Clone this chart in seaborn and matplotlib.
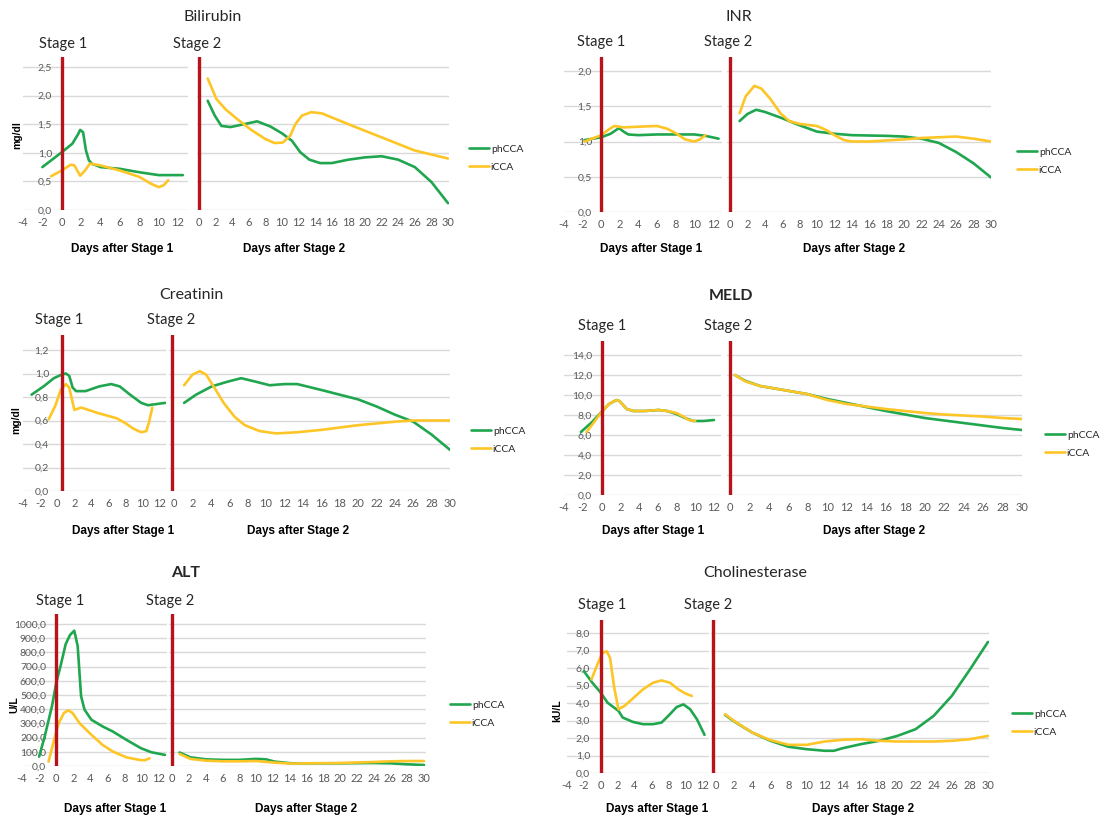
"""
Liver lab values after stage 1 / stage 2 surgery, phCCA vs iCCA.
Six small panels, each split into a Stage 1 and a Stage 2 axis.
Output: out.png
"""

import numpy as np
import pandas as pd
import matplotlib
matplotlib.use("Agg")
import matplotlib.pyplot as plt
import seaborn as sns

W, H = 1101, 819

# -------------------------------
# Data: (day, value)
# -------------------------------
bili_s1_ph = [(-2, 0.75), (0, 1.01), (1.1, 1.16), (1.7, 1.33), (1.9, 1.40), (2.2, 1.36), (2.5, 1.04),
              (2.8, 0.87), (3.1, 0.81), (4, 0.75), (6, 0.72), (7, 0.69), (8, 0.66), (10, 0.61),
              (12, 0.61), (12.5, 0.61)]
bili_s1_i = [(-1.1, 0.59), (0, 0.69), (0.9, 0.79), (1.3, 0.78), (1.9, 0.60), (2.4, 0.69), (2.9, 0.81),
             (4, 0.78), (6, 0.69), (8, 0.58), (9.2, 0.46), (10, 0.40), (10.5, 0.43), (11, 0.52)]
bili_s2_ph = [(1.05, 1.91), (1.9, 1.65), (2.7, 1.47), (3.8, 1.45), (5.1, 1.49), (7, 1.55), (8.6, 1.46),
              (10, 1.34), (11.2, 1.21), (12.2, 1.01), (13.3, 0.88), (14.6, 0.82), (16, 0.82),
              (18, 0.88), (20, 0.92), (22, 0.94), (24, 0.88), (26, 0.75), (28, 0.49), (30, 0.12)]
bili_s2_i = [(1.05, 2.30), (2.1, 1.94), (3.2, 1.76), (4.6, 1.59), (6.3, 1.40), (8, 1.24), (9.1, 1.17),
             (10.1, 1.18), (11, 1.30), (11.6, 1.50), (12.4, 1.65), (13.5, 1.71), (14.8, 1.69),
             (18, 1.50), (22, 1.27), (26, 1.04), (30, 0.90)]

inr_s1_ph = [(-1.8, 1.02), (0, 1.06), (1, 1.11), (1.9, 1.19), (2.4, 1.14), (2.9, 1.10), (4, 1.09),
             (6, 1.10), (8, 1.10), (10, 1.10), (11.2, 1.08), (12.6, 1.04)]
inr_s1_i = [(-1.8, 1.00), (0, 1.09), (0.8, 1.17), (1.4, 1.22), (2.4, 1.20), (4, 1.21), (6, 1.22),
            (7.1, 1.18), (8.1, 1.11), (9, 1.03), (10, 1.00), (10.6, 1.03), (11.2, 1.09)]
inr_s2_ph = [(1.1, 1.29), (2, 1.39), (3, 1.45), (4, 1.42), (6, 1.33), (8, 1.23), (10, 1.14), (12, 1.11),
             (14, 1.09), (18, 1.08), (20, 1.07), (22, 1.04), (24, 0.98), (26, 0.85), (28, 0.69),
             (30, 0.49)]
inr_s2_i = [(1.1, 1.40), (1.8, 1.64), (2.8, 1.79), (3.6, 1.75), (4.6, 1.61), (5.8, 1.40), (6.8, 1.29),
            (8, 1.25), (10, 1.22), (11.1, 1.16), (12, 1.09), (13.1, 1.02), (14, 1.00), (16, 1.00),
            (20, 1.03), (22, 1.05), (26, 1.07), (28, 1.04), (30, 1.00)]

crea_s1_ph = [(-3, 0.82), (-1.6, 0.89), (-0.4, 0.96), (0.5, 0.99), (1.0, 1.00), (1.4, 0.98), (1.8, 0.88),
              (2.2, 0.85), (3.3, 0.85), (4.9, 0.89), (6.3, 0.91), (7.3, 0.89), (8.5, 0.82),
              (9.8, 0.75), (10.6, 0.73), (11.6, 0.74), (12.6, 0.75)]
crea_s1_i = [(-1.0, 0.61), (-0.2, 0.73), (0.4, 0.86), (1.0, 0.91), (1.4, 0.88), (2.0, 0.69), (2.8, 0.71),
             (4.9, 0.66), (6.9, 0.62), (7.9, 0.58), (8.9, 0.53), (9.8, 0.50), (10.4, 0.51),
             (10.7, 0.58), (11.1, 0.71)]
crea_s2_ph = [(1.1, 0.75), (2.4, 0.82), (4.1, 0.89), (5.8, 0.93), (7.3, 0.96), (8.9, 0.93), (10.4, 0.90),
              (12, 0.91), (13.4, 0.91), (16, 0.86), (18, 0.82), (20, 0.78), (22, 0.72), (24, 0.65),
              (26, 0.59), (28, 0.48), (30, 0.35)]
crea_s2_i = [(1.1, 0.90), (2.0, 0.99), (2.8, 1.02), (3.5, 0.99), (4.3, 0.89), (5.4, 0.75), (6.6, 0.63),
             (7.7, 0.56), (9.3, 0.51), (11.1, 0.49), (13.4, 0.50), (16, 0.52), (20, 0.56), (24, 0.59),
             (26, 0.60), (30, 0.60)]

meld_s1_ph = [(-2.2, 6.3), (-1.0, 7.3), (0, 8.3), (0.8, 9.1), (1.6, 9.5), (1.9, 9.4), (2.7, 8.6),
              (3.4, 8.4), (4.6, 8.4), (6.1, 8.5), (7, 8.4), (8, 8.1), (8.9, 7.7), (9.8, 7.4),
              (10.9, 7.4), (12, 7.5)]
meld_s1_i = [(-1.6, 6.3), (-0.7, 7.4), (0, 8.3), (0.8, 9.1), (1.6, 9.5), (1.9, 9.4), (2.7, 8.6),
             (3.4, 8.4), (4.6, 8.4), (6.1, 8.5), (7, 8.4), (8, 8.2), (8.8, 7.8), (9.3, 7.5), (10, 7.4)]
meld_s2_ph = [(0.5, 12.0), (1.6, 11.4), (3.1, 10.9), (4.9, 10.6), (7.9, 10.1), (10, 9.6), (12, 9.2),
              (14, 8.8), (16, 8.4), (18, 8.05), (20, 7.7), (22, 7.45), (24, 7.2), (26, 6.95),
              (28, 6.7), (30, 6.5)]
meld_s2_i = [(0.5, 12.0), (1.6, 11.35), (3.1, 10.9), (4.9, 10.6), (7.9, 10.1), (10, 9.5), (12, 9.1),
             (14, 8.85), (16, 8.6), (18, 8.4), (20, 8.2), (22, 8.05), (24, 7.95), (26, 7.85),
             (28, 7.7), (30, 7.6)]

alt_s1_ph = [(-2.0, 66), (-1.35, 208), (-0.5, 421), (0, 586), (0.5, 704), (1.1, 858), (1.6, 922),
             (2.1, 953), (2.5, 846), (2.9, 492), (3.3, 397), (4.1, 326), (5.4, 279), (6.6, 243),
             (8.2, 184), (9.9, 125), (11.1, 97), (12.7, 78)]
alt_s1_i = [(-0.9, 31), (-0.3, 173), (0.3, 303), (0.9, 374), (1.4, 392), (1.9, 374), (2.7, 303),
            (4.1, 220), (5.4, 149), (6.6, 102), (8.2, 61), (9.7, 43), (10.3, 40), (10.9, 54)]
alt_s2_ph = [(0.9, 95), (2.2, 61), (4, 47), (6, 43), (8, 43), (10, 50), (11.2, 47), (12.2, 31),
             (14.2, 19), (16.2, 19), (20, 19), (24, 21), (26, 19), (28, 12), (30, 7)]
alt_s2_i = [(0.9, 85), (2.2, 50), (4, 38), (6, 33), (8, 33), (10, 35), (12.2, 24), (14.2, 17),
            (16.2, 19), (20, 21), (24, 28), (26, 33), (28, 35), (30, 35)]

che_s1_ph = [(-2, 5.82), (-1, 5.16), (0, 4.59), (0.8, 4.02), (1.6, 3.73), (2.1, 3.55), (2.6, 3.17),
             (3.8, 2.92), (5, 2.79), (6.2, 2.79), (7.2, 2.88), (8.0, 3.26), (9.0, 3.77), (9.8, 3.92),
             (10.6, 3.64), (11.4, 3.07), (12.3, 2.18)]
che_s1_i = [(-1.1, 5.35), (-0.4, 6.20), (0.2, 6.86), (0.7, 6.96), (1.1, 6.58), (1.6, 4.87), (2.1, 3.64),
            (2.8, 3.83), (3.9, 4.30), (5, 4.78), (6.2, 5.16), (7.2, 5.29), (8.2, 5.16), (9.2, 4.78),
            (10, 4.55), (10.8, 4.40)]
che_s2_ph = [(1, 3.32), (1.9, 2.98), (4, 2.31), (6, 1.84), (8, 1.50), (10, 1.36), (12, 1.27), (13, 1.27),
             (14, 1.42), (16, 1.65), (18, 1.84), (20, 2.12), (22, 2.50), (24, 3.26), (26, 4.40),
             (28, 5.91), (30, 7.49)]
che_s2_i = [(1, 3.36), (1.9, 3.01), (4, 2.31), (6, 1.88), (8, 1.61), (10, 1.61), (12, 1.80), (14, 1.90),
            (16, 1.93), (18, 1.84), (20, 1.80), (22, 1.80), (24, 1.80), (26, 1.84), (28, 1.93),
            (30, 2.12)]

GROUPS = ["phCCA", "iCCA"]
PALETTE = {"phCCA": "#1FA64F", "iCCA": "#FDC526"}
RED = "#B8121B"
TICK_GRAY = "#595959"

# -------------------------------
# Layout in pixels of the 1101x819 picture
# s1: px of day -4 / day 12, right limit; s2: px of day 0 / day 30, limits
# y: px of 0 / px of top tick
# -------------------------------
PANELS = [
    dict(title="Bilirubin", bold=False, data=(bili_s1_ph, bili_s1_i, bili_s2_ph, bili_s2_i),
         s1=(23, 178, 13.0), s2=(199, 448, -0.3, 30.1), y=(210, 67), yticks=(0, 2.5, 0.5), ytop=2.68,
         red=(0, 0), ylab_edge=52, title_xy=(213, 17), st1=(63, 44), st2=(197, 44),
         days=(122, 294, 249), ylabel=("mg/dl", 17, 135), legend=(469, 158)),
    dict(title="INR", bold=False, data=(inr_s1_ph, inr_s1_i, inr_s2_ph, inr_s2_i),
         s1=(564, 713, 13.0), s2=(730, 991, -0.3, 30.0), y=(212, 71), yticks=(0, 2.0, 0.5), ytop=2.2,
         red=(0, 0), ylab_edge=592, title_xy=(739, 17), st1=(601, 42), st2=(728, 42),
         days=(651, 854, 249), ylabel=None, legend=(1017, 161)),
    dict(title="Creatinin", bold=False, data=(crea_s1_ph, crea_s1_i, crea_s2_ph, crea_s2_i),
         s1=(23, 160, 12.7), s2=(174, 450, -0.5, 30.0), y=(491, 350), yticks=(0, 1.2, 0.2), ytop=1.33,
         red=(0.5, -0.25), ylab_edge=49, title_xy=(191, 295), st1=(59, 320), st2=(171, 320),
         days=(123, 298, 531), ylabel=("mg/dl", 16, 420), legend=(471, 440)),
    dict(title="MELD", bold=True, data=(meld_s1_ph, meld_s1_i, meld_s2_ph, meld_s2_i),
         s1=(564, 714, 12.7), s2=(730, 1022, -0.3, 30.0), y=(495, 355), yticks=(0, 14, 2), ytop=15.4,
         red=(0, 0), ylab_edge=592, title_xy=(731, 296), st1=(602, 326), st2=(728, 326),
         days=(653, 874, 531), ylabel=None, legend=(1045, 444)),
    dict(title="ALT", bold=True, data=(alt_s1_ph, alt_s1_i, alt_s2_ph, alt_s2_i),
         s1=(22, 159, 12.9), s2=(172, 424, -0.3, 30.2), y=(766, 624), yticks=(0, 1000, 100), ytop=1071,
         red=(0, 0), ylab_edge=46, title_xy=(186, 573), st1=(60, 601), st2=(170, 601),
         days=(115, 306, 809), ylabel=("U/L", 14, 705), legend=(450, 714)),
    dict(title="Cholinesterase", bold=False, data=(che_s1_ph, che_s1_i, che_s2_ph, che_s2_i),
         s1=(567, 702, 12.8), s2=(716, 988, -0.6, 30.1), y=(773, 633), yticks=(0, 8, 1), ytop=8.76,
         red=(0, -0.3), ylab_edge=590, title_xy=(755, 573), st1=(602, 605), st2=(708, 605),
         days=(657, 863, 809), ylabel=("kU/L", 557, 711), legend=(1012, 723)),
]


def to_frame(ph, icca):
    rows = [(d, v, "phCCA") for d, v in ph] + [(d, v, "iCCA") for d, v in icca]
    return pd.DataFrame(rows, columns=["day", "value", "group"])


def fx(px):
    return px / W


def fy(py):
    return 1 - py / H


def add_px_axes(fig, x0, x1, y_top, y_bot):
    return fig.add_axes([fx(x0), fy(y_bot), (x1 - x0) / W, (y_bot - y_top) / H])


def style_axis(ax, ticks, xticks):
    ax.set_facecolor("none")
    sns.despine(ax=ax, left=True, bottom=True)
    ax.set_yticks(ticks)
    ax.yaxis.grid(True, color="#D9D9D9", lw=1.0)
    ax.xaxis.grid(False)
    ax.set_axisbelow(True)
    ax.set_xticks(xticks)
    ax.set_xticklabels([str(t) for t in xticks])
    ax.tick_params(axis="x", length=0, pad=5, labelsize=8, labelcolor=TICK_GRAY)
    ax.set_xlabel("")
    ax.set_ylabel("")


def draw_panel(fig, p):
    s1_ph, s1_i, s2_ph, s2_i = p["data"]
    y0_px, ytick_px = p["y"]
    lo, hi, step = p["yticks"]
    ppu_y = (y0_px - ytick_px) / hi
    y_top_px = y0_px - p["ytop"] * ppu_y
    ticks = np.arange(lo, hi + step / 2, step)

    # ---- stage 1 axis ----
    a, b, xmax1 = p["s1"]
    ppu1 = (b - a) / 16.0
    ax1 = add_px_axes(fig, a, a + (xmax1 + 4) * ppu1, y_top_px, y0_px)
    sns.lineplot(data=to_frame(s1_ph, s1_i), x="day", y="value", hue="group", hue_order=GROUPS,
                 palette=PALETTE, estimator=None, sort=False, lw=1.9, legend=False, ax=ax1)
    ax1.set_xlim(-4, xmax1)
    ax1.set_ylim(0, p["ytop"])
    style_axis(ax1, ticks, list(range(-4, 13, 2)))
    ax1.set_yticklabels([f"{t:.1f}".replace(".", ",") for t in ticks])
    pad_pt = -(p["ylab_edge"] - a) * 72 / 100
    ax1.tick_params(axis="y", length=0, pad=pad_pt, labelsize=7.5, labelcolor=TICK_GRAY)
    ax1.axvline(p["red"][0], color=RED, lw=2.4, zorder=5)

    # ---- stage 2 axis ----
    c, d, xmin2, xmax2 = p["s2"]
    ppu2 = (d - c) / 30.0
    ax2 = add_px_axes(fig, c + xmin2 * ppu2, c + xmax2 * ppu2, y_top_px, y0_px)
    sns.lineplot(data=to_frame(s2_ph, s2_i), x="day", y="value", hue="group", hue_order=GROUPS,
                 palette=PALETTE, estimator=None, sort=False, lw=1.9, legend=True, ax=ax2)
    ax2.set_xlim(xmin2, xmax2)
    ax2.set_ylim(0, p["ytop"])
    style_axis(ax2, ticks, list(range(0, 31, 2)))
    ax2.tick_params(axis="y", length=0, labelleft=False)
    ax2.axvline(p["red"][1], color=RED, lw=2.4, zorder=5)

    lx, ly = p["legend"]
    sns.move_legend(ax2, loc="center left", bbox_to_anchor=(fx(lx), fy(ly)),
                    bbox_transform=fig.transFigure, title=None, frameon=False,
                    fontsize=7.5, handlelength=1.9, handletextpad=0.2, labelspacing=0.85,
                    borderpad=0, borderaxespad=0)
    for line in ax2.get_legend().get_lines():
        line.set_linewidth(1.9)

    # ---- texts ----
    tx, ty = p["title_xy"]
    fig.text(fx(tx), fy(ty), p["title"], ha="center", va="center", fontsize=11.5,
             fontweight="bold" if p["bold"] else "normal", color="#262626")
    for (sx, sy), lab in ((p["st1"], "Stage 1"), (p["st2"], "Stage 2")):
        fig.text(fx(sx), fy(sy), lab, ha="center", va="center", fontsize=10.5, color="#262626")
    d1, d2, dy = p["days"]
    for dx, lab in ((d1, "Days after Stage 1"), (d2, "Days after Stage 2")):
        fig.text(fx(dx), fy(dy), lab, ha="center", va="center", fontsize=8.5, fontweight="bold",
                 family=["Liberation Sans", "DejaVu Sans"], color="black")
    if p["ylabel"]:
        lab, yx, yy = p["ylabel"]
        fig.text(fx(yx), fy(yy), lab, ha="center", va="center", rotation=90, fontsize=7.5,
                 fontweight="bold", family=["Liberation Sans", "DejaVu Sans"], color="black")


def main():
    sns.set_theme(style="white")
    plt.rcParams["font.family"] = ["Lato", "DejaVu Sans"]

    fig = plt.figure(figsize=(W / 100, H / 100), dpi=100)
    fig.patch.set_facecolor("white")
    for p in PANELS:
        draw_panel(fig, p)

    fig.savefig("out.png", dpi=100, facecolor="white")


if __name__ == "__main__":
    main()
